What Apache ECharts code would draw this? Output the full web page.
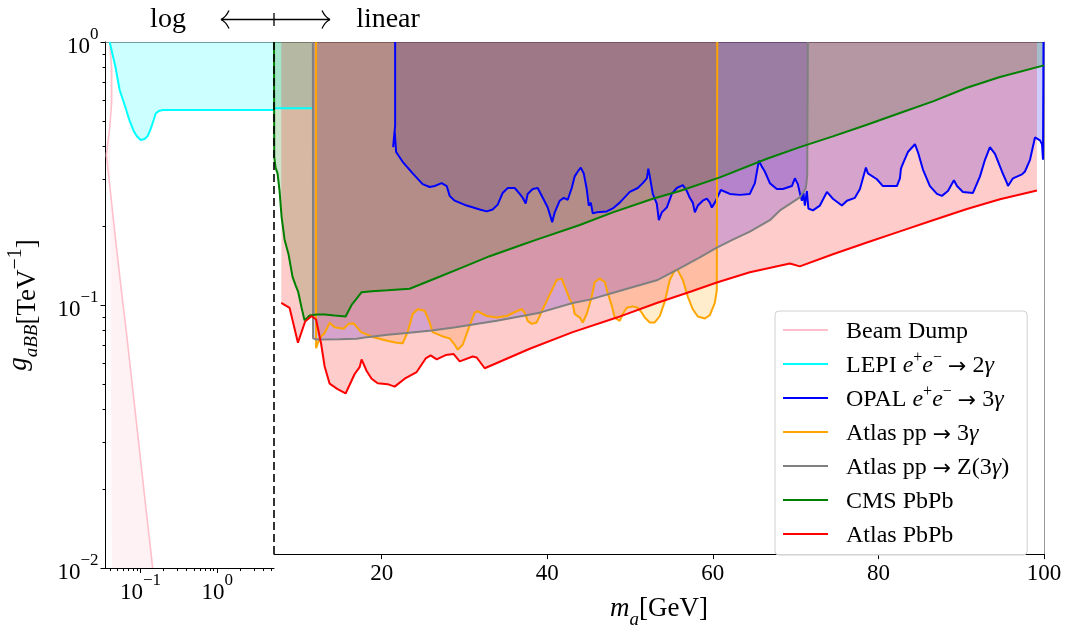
<!DOCTYPE html>
<html>
<head>
<meta charset="utf-8">
<title>ALP limits</title>
<style>
html,body{margin:0;padding:0;background:#fff;}
#chart{width:1065px;height:634px;}
</style>
</head>
<body>
<div id="chart"></div>
<script src="https://cdn.jsdelivr.net/npm/echarts@6/dist/echarts.min.js"></script>
<script>
// ---- data: [m_a (GeV), g_aBB (1/TeV)] ----
var beamDump = [[0.0397,1],[0.0421,0.797],[0.0421,0.591],[0.0397,0.471],[0.0359,0.372],[0.0397,0.286],[0.0447,0.207],
  [0.0504,0.151],[0.0569,0.111],[0.0661,0.0769],[0.0768,0.0519],[0.0892,0.035],[0.1036,0.0236],[0.1204,0.0159],
  [0.1358,0.0117],[0.1442,0.01]];

var lepiLog = [[0.0397,1],[0.0434,0.892],[0.0475,0.796],[0.0535,0.657],[0.0622,0.576],[0.0723,0.501],[0.0815,0.459],
  [0.0892,0.439],[0.1006,0.424],[0.1134,0.428],[0.1241,0.439],[0.1358,0.467],[0.1486,0.505],[0.1578,0.535],
  [0.1727,0.547],[0.1948,0.551],[5.5,0.551]];
var lepiLin = [[7,0.551],[11.7,0.551]];

var opal = [[21.63,1],[21.63,0.471],[21.39,0.3885],[21.57,0.4508],[21.75,0.3718],[22.54,0.3405],[23.75,0.3067],
  [24.95,0.2786],[25.80,0.2714],[26.41,0.2738],[27.25,0.2810],[27.86,0.2738],[28.22,0.2507],[28.82,0.2400],
  [30.27,0.2297],[31.84,0.2218],[32.69,0.2180],[33.41,0.2218],[34.02,0.2317],[34.62,0.2574],[35.23,0.2690],
  [36.07,0.2690],[36.68,0.2551],[37.04,0.2463],[37.40,0.2338],[37.64,0.2551],[38.25,0.2666],[38.85,0.2690],
  [39.46,0.2463],[40.06,0.2257],[40.60,0.1979],[40.91,0.2161],[41.51,0.2400],[42.00,0.2463],[42.48,0.2421],
  [42.96,0.2690],[43.32,0.2987],[43.69,0.3121],[44.05,0.3232],[44.41,0.3067],[44.77,0.2666],[45.02,0.2297],
  [45.26,0.2359],[45.50,0.2142],[45.98,0.2161],[47.19,0.2180],[47.92,0.2238],[48.76,0.2359],[49.97,0.2597],
  [50.94,0.2690],[51.54,0.2810],[52.03,0.2935],[52.21,0.3203],[52.39,0.2987],[52.75,0.2551],[53.23,0.2338],
  [53.48,0.2014],[53.84,0.2161],[54.44,0.2257],[55.05,0.2551],[55.65,0.2690],[56.38,0.2761],[56.86,0.2619],
  [57.22,0.2463],[57.58,0.2359],[57.83,0.2161],[58.19,0.2297],[58.79,0.2400],[59.28,0.2443],[59.64,0.2359],
  [59.88,0.2257],[60.24,0.2359],[60.97,0.2642],[62.06,0.2551],[63.26,0.2529],[64.47,0.2551],[65.08,0.2810],
  [65.56,0.3436],[65.92,0.3261],[66.28,0.3121],[66.89,0.2810],[67.73,0.2666],[68.46,0.2666],[69.55,0.2738],
  [69.91,0.2935],[70.27,0.2786],[70.51,0.2574],[70.76,0.2400],[70.94,0.2574],[71.12,0.2297],[71.36,0.2619],
  [71.54,0.2238],[72.09,0.2199],[72.93,0.2297],[73.78,0.2597],[74.02,0.2551],[74.50,0.2443],[75.59,0.2297],
  [76.20,0.2400],[77.16,0.2463],[77.77,0.2666],[78.13,0.2935],[78.49,0.3232],[78.73,0.3067],[79.82,0.2910],
  [80.54,0.2738],[82.23,0.2738],[82.60,0.2935],[82.72,0.3203],[82.96,0.3347],[83.56,0.3718],[84.41,0.3988],
  [84.77,0.3718],[85.38,0.3175],[86.22,0.2738],[87.07,0.2551],[87.67,0.2507],[88.40,0.2619],[89.12,0.2884],
  [89.49,0.2738],[90.21,0.2597],[91.42,0.2574],[92.27,0.2987],[92.87,0.3467],[93.47,0.3885],[94.08,0.3654],
  [94.92,0.3121],[95.53,0.2810],[95.65,0.2738],[96.25,0.2935],[97.34,0.3040],[97.70,0.3121],[98.31,0.3467],
  [98.91,0.4240],[99.52,0.4130],[99.76,0.3988],[99.88,0.3467],[99.94,1]];

var atlas3g = [[12.08,1],[12.08,0.0637],[12.51,0.0696],[13.11,0.0730],[13.72,0.0800],[14.32,0.0769],[15.41,0.0759],
  [16.01,0.0793],[16.62,0.0796],[17.52,0.0736],[18.91,0.0705],[20.54,0.0683],[21.81,0.0669],[22.54,0.0666],
  [23.14,0.0736],[23.75,0.0866],[24.35,0.0904],[25.20,0.0892],[25.80,0.0803],[26.16,0.0736],[27.37,0.0708],
  [28.22,0.0696],[28.82,0.0657],[29.19,0.0629],[29.79,0.0657],[30.64,0.0782],[31.24,0.0877],[31.60,0.0888],
  [32.69,0.0851],[33.90,0.0839],[35.11,0.0851],[36.31,0.0888],[36.92,0.0904],[37.28,0.0877],[37.64,0.0814],
  [38.13,0.0793],[38.73,0.0803],[39.46,0.0904],[40.30,0.1031],[41.15,0.1176],[41.75,0.1191],[42.11,0.1110],
  [42.72,0.0987],[43.08,0.0945],[43.32,0.0866],[43.93,0.0839],[44.29,0.0803],[44.77,0.0866],[45.38,0.1013],
  [45.74,0.1155],[46.34,0.1191],[46.95,0.1155],[47.31,0.1045],[47.80,0.0932],[48.16,0.0839],[48.76,0.0814],
  [49.12,0.0866],[49.61,0.0916],[50.33,0.0928],[50.94,0.0916],[51.42,0.0877],[51.78,0.0839],[52.39,0.0803],
  [52.99,0.0803],[53.60,0.0851],[54.20,0.0970],[54.80,0.1176],[55.41,0.1283],[55.77,0.1283],[56.38,0.1176],
  [56.98,0.1013],[57.58,0.0904],[58.19,0.0847],[59.03,0.0832],[59.64,0.0858],[60.24,0.0957],[60.48,0.1072],
  [60.54,1]];

var atlasZ = [[11.70,1],[11.72,0.0696],[12.15,0.0689],[14.92,0.0690],[16.98,0.0694],[17.95,0.0702],[20.73,0.0719],
  [23.02,0.0731],[26.04,0.0747],[28.94,0.0769],[33.90,0.0815],[39.09,0.0877],[43.08,0.0957],[45.14,0.0986],
  [49.12,0.1075],[53.23,0.1173],[55.65,0.1289],[58.43,0.1441],[60.48,0.1573],[62.42,0.1691],[64.47,0.1818],
  [66.89,0.2014],[68.10,0.2199],[69.31,0.2332],[70.51,0.2471],[71.24,0.2690],[71.40,0.30],[71.48,1]];

var cms = [[7.0,1],[7.03,0.356],[7.19,0.323],[7.43,0.307],[7.67,0.262],[7.92,0.207],[8.28,0.169],[8.76,0.148],
  [9.24,0.121],[9.61,0.112],[9.91,0.106],[10.33,0.0916],[10.69,0.0818],[11.30,0.0854],[12.15,0.0862],
  [13.11,0.0862],[14.32,0.0854],[15.65,0.0847],[16.37,0.094],[16.86,0.0983],[17.58,0.1054],[18.79,0.1063],
  [20.73,0.1072],[23.38,0.1087],[26.16,0.1181],[29.91,0.1323],[33.05,0.1457],[37.04,0.1618],[38.73,0.1691],
  [43.93,0.1928],[47.92,0.2161],[52.75,0.2443],[56.01,0.2619],[60.85,0.2961],[66.53,0.3499],[70.51,0.3885],
  [74.50,0.4278],[78.61,0.4752],[82.60,0.5278],[86.59,0.5862],[90.69,0.6628],[94.68,0.7297],[100,0.8104]];

var atlasPbPb = [[7.88,0.0957],[8.88,0.0916],[9.89,0.0669],[10.76,0.081],[11.54,0.0851],[12.08,0.0825],[12.69,0.0663],
  [13.11,0.0542],[13.72,0.0463],[14.68,0.0441],[15.65,0.0424],[16.74,0.0505],[17.34,0.0537],[17.58,0.0576],
  [18.19,0.0519],[18.79,0.0484],[19.52,0.0465],[20.73,0.0461],[21.57,0.0451],[22.78,0.0484],[24.23,0.0514],
  [25.32,0.0581],[25.92,0.0597],[26.65,0.0576],[27.73,0.0599],[28.70,0.0604],[29.43,0.0566],[31.00,0.0591],
  [31.48,0.0586],[32.45,0.0532],[37.89,0.0634],[43.08,0.0736],[48.40,0.0839],[53.23,0.0957],[57.46,0.1063],
  [60.48,0.115],[64.47,0.1261],[69.31,0.1365],[70.51,0.133],[74.50,0.1483],[78.61,0.1647],[82.60,0.1822],
  [86.59,0.2014],[90.69,0.2228],[94.68,0.2431],[99.15,0.2631]];

// ticks
var xLogTicks = [0.1, 1];
var xLogMinor = [0.04,0.05,0.06,0.07,0.08,0.09,0.2,0.3,0.4,0.5,0.6,0.7,0.8,0.9,2,3,4,5];
var xLinTicks = [20, 40, 60, 80, 100];
var yTicks = [0.01, 0.1, 1];
var yMinor = [0.02,0.03,0.04,0.05,0.06,0.07,0.08,0.09,0.2,0.3,0.4,0.5,0.6,0.7,0.8,0.9];

var FONT = 'Liberation Serif';
var xLogMin = 0.035, xLogMax = 5.5, xLinMin = 7, xLinMax = 100;

var powRich = {
  b: {fontFamily: FONT, fontSize: 23, lineHeight: 32, verticalAlign: 'bottom', color: '#000'},
  s: {fontFamily: FONT, fontSize: 17, lineHeight: 17, verticalAlign: 'top', color: '#000'}
};
function powLabel(v) {
  var e = Math.round(Math.log(v) / Math.LN10);
  return '{b|10}{s|' + (e < 0 ? '\u2212' + (-e) : e) + '}';
}

var txtRich = {
  n: {fontFamily: FONT, fontSize: 24, lineHeight: 28, verticalAlign: 'bottom', color: '#000'},
  i: {fontFamily: FONT, fontStyle: 'italic', fontSize: 24, lineHeight: 28, verticalAlign: 'bottom', color: '#000'},
  a: {fontFamily: 'DejaVu Sans', fontSize: 22, lineHeight: 28, verticalAlign: 'bottom', color: '#000'},
  s: {fontFamily: FONT, fontSize: 16, lineHeight: 16, verticalAlign: 'top', color: '#000'}
};
var legendLabels = {
  'Beam Dump': '{n|Beam Dump}',
  'LEPI e+e- \u2192 2\u03b3': '{n|LEPI }{i|e}{s|+}{i|e}{s|\u2212}{n| }{a|\u2192}{n| 2}{i|\u03b3}',
  'OPAL e+e- \u2192 3\u03b3': '{n|OPAL }{i|e}{s|+}{i|e}{s|\u2212}{n| }{a|\u2192}{n| 3}{i|\u03b3}',
  'Atlas pp \u2192 3\u03b3': '{n|Atlas pp }{a|\u2192}{n| 3}{i|\u03b3}',
  'Atlas pp \u2192 Z(3\u03b3)': '{n|Atlas pp }{a|\u2192}{n| Z(3}{i|\u03b3}{n|)}',
  'CMS PbPb': '{n|CMS PbPb}',
  'Atlas PbPb': '{n|Atlas PbPb}'
};

function line(name, color, fill, data, grid, origin, extra) {
  var s = {
    name: name, type: 'line', data: data, showSymbol: false, symbol: 'none',
    xAxisIndex: grid === 0 ? 0 : 2, yAxisIndex: grid === 0 ? 0 : 2,
    itemStyle: {color: color},
    lineStyle: {color: color, width: 2},
    areaStyle: {color: fill, opacity: 1, origin: origin || 'end'},
    emphasis: {disabled: true}, silent: true
  };
  for (var k in extra) s[k] = extra[k];
  return s;
}

var chart = echarts.init(document.getElementById('chart'));
var option = {
  animation: false,
  backgroundColor: '#fff',
  grid: [
    {left: 105.5, top: 42, width: 168.5, bottom: 66},
    {left: 274, top: 42, right: 21, bottom: 66}
  ],
  xAxis: [
    {gridIndex: 0, type: 'log', logBase: 10, min: xLogMin, max: xLogMax, position: 'bottom',
      axisLine: {onZero: false, lineStyle: {color: '#000', width: 1}},
      axisTick: {customValues: xLogTicks, length: 5, lineStyle: {color: '#000'}},
      axisLabel: {customValues: xLogTicks, formatter: powLabel, rich: powRich, margin: 4},
      splitLine: {show: false}},
    {gridIndex: 0, type: 'log', logBase: 10, min: xLogMin, max: xLogMax, position: 'bottom',
      axisLine: {show: false, onZero: false},
      axisTick: {customValues: xLogMinor, length: 3, lineStyle: {color: '#000'}},
      axisLabel: {show: false}, splitLine: {show: false}},
    {gridIndex: 1, type: 'value', min: xLinMin, max: xLinMax, position: 'bottom',
      axisLine: {onZero: false, lineStyle: {color: '#000', width: 1}},
      axisTick: {customValues: xLinTicks, length: 5, lineStyle: {color: '#000'}},
      axisLabel: {customValues: xLinTicks, fontFamily: FONT, fontSize: 23, lineHeight: 32, color: '#000', margin: 4},
      splitLine: {show: false},
      name: '{i|m}{u|a}{n|[GeV]}', nameLocation: 'middle', nameGap: 40,
      nameTextStyle: {rich: {
        i: {fontFamily: FONT, fontStyle: 'italic', fontSize: 27, lineHeight: 34, verticalAlign: 'top', color: '#000'},
        u: {fontFamily: FONT, fontStyle: 'italic', fontSize: 19, lineHeight: 24, verticalAlign: 'bottom', color: '#000'},
        n: {fontFamily: FONT, fontSize: 27, lineHeight: 34, verticalAlign: 'top', color: '#000'}
      }}},
    {gridIndex: 0, type: 'value', min: 0, max: 1, position: 'top',
      axisLine: {onZero: false, lineStyle: {color: '#888', width: 1}},
      axisTick: {show: false}, axisLabel: {show: false}, splitLine: {show: false}},
    {gridIndex: 1, type: 'value', min: 0, max: 1, position: 'top',
      axisLine: {onZero: false, lineStyle: {color: '#888', width: 1}},
      axisTick: {show: false}, axisLabel: {show: false}, splitLine: {show: false}}
  ],
  yAxis: [
    {gridIndex: 0, type: 'log', logBase: 10, min: 0.01, max: 1, position: 'left',
      axisLine: {onZero: false, lineStyle: {color: '#000', width: 1}},
      axisTick: {customValues: yTicks, length: 5, lineStyle: {color: '#000'}},
      axisLabel: {customValues: yTicks, formatter: powLabel, rich: powRich, margin: 7},
      splitLine: {show: false},
      name: '{i|g}{u|aBB}{n|[TeV}{s|\u22121}{n|]}', nameLocation: 'middle', nameRotate: 90, nameGap: 64,
      nameTextStyle: {rich: {
        i: {fontFamily: FONT, fontStyle: 'italic', fontSize: 27, lineHeight: 36, verticalAlign: 'top', color: '#000'},
        u: {fontFamily: FONT, fontStyle: 'italic', fontSize: 19, lineHeight: 24, verticalAlign: 'bottom', color: '#000'},
        n: {fontFamily: FONT, fontSize: 27, lineHeight: 36, verticalAlign: 'bottom', color: '#000'},
        s: {fontFamily: FONT, fontSize: 20, lineHeight: 20, verticalAlign: 'top', color: '#000'}
      }}},
    {gridIndex: 0, type: 'log', logBase: 10, min: 0.01, max: 1, position: 'left',
      axisLine: {show: false, onZero: false},
      axisTick: {customValues: yMinor, length: 3, lineStyle: {color: '#000'}},
      axisLabel: {show: false}, splitLine: {show: false}},
    {gridIndex: 1, type: 'log', logBase: 10, min: 0.01, max: 1, position: 'right',
      axisLine: {onZero: false, lineStyle: {color: '#999', width: 1}},
      axisTick: {show: false}, axisLabel: {show: false}, splitLine: {show: false}}
  ],
  legend: {
    left: 775, top: 311, orient: 'vertical',
    data: Object.keys(legendLabels),
    icon: 'rect', itemWidth: 45, itemHeight: 2, itemGap: 6,
    padding: [5, 18, 7, 8],
    backgroundColor: 'rgba(255,255,255,0.85)', borderColor: '#d0d0d0', borderWidth: 1, borderRadius: 4,
    selectedMode: false,
    formatter: function (name) { return legendLabels[name]; },
    textStyle: {fontFamily: FONT, fontSize: 24, lineHeight: 28, color: '#000', padding: [0, 0, 0, 13], rich: txtRich}
  },
  graphic: [
    {type: 'text', x: 168, y: 20, style: {text: 'log', font: '28px "Liberation Serif"', fill: '#000', align: 'center', verticalAlign: 'middle'}},
    {type: 'text', x: 388, y: 20, style: {text: 'linear', font: '28px "Liberation Serif"', fill: '#000', align: 'center', verticalAlign: 'middle'}},
    {type: 'line', shape: {x1: 221, y1: 19.5, x2: 330, y2: 19.5}, style: {stroke: '#000', lineWidth: 1.3}},
    {type: 'line', shape: {x1: 274, y1: 13, x2: 274, y2: 26}, style: {stroke: '#000', lineWidth: 1.3}},
    {type: 'bezierCurve', shape: {x1: 221, y1: 19.5, x2: 229, y2: 10.5, cpx1: 226, cpy1: 17}, style: {stroke: '#000', lineWidth: 1.3, fill: null}},
    {type: 'bezierCurve', shape: {x1: 221, y1: 19.5, x2: 229, y2: 28.5, cpx1: 226, cpy1: 22}, style: {stroke: '#000', lineWidth: 1.3, fill: null}},
    {type: 'bezierCurve', shape: {x1: 330, y1: 19.5, x2: 322, y2: 10.5, cpx1: 325, cpy1: 17}, style: {stroke: '#000', lineWidth: 1.3, fill: null}},
    {type: 'bezierCurve', shape: {x1: 330, y1: 19.5, x2: 322, y2: 28.5, cpx1: 325, cpy1: 22}, style: {stroke: '#000', lineWidth: 1.3, fill: null}}
  ],
  series: [
    line('Beam Dump', '#ffc0cb', 'rgba(255,192,203,0.2)', beamDump, 0, 'start', {lineStyle: {color: '#ffc0cb', width: 1.6}}),
    line('LEPI e+e- \u2192 2\u03b3', '#00ffff', 'rgba(0,255,255,0.2)', lepiLog, 0),
    line('LEPI e+e- \u2192 2\u03b3', '#00ffff', 'rgba(0,255,255,0.2)', lepiLin, 1),
    line('OPAL e+e- \u2192 3\u03b3', '#0000ff', 'rgba(0,0,255,0.2)', opal, 1),
    line('Atlas pp \u2192 3\u03b3', '#ffa500', 'rgba(255,165,0,0.2)', atlas3g, 1),
    line('Atlas pp \u2192 Z(3\u03b3)', '#808080', 'rgba(0,0,255,0.2)', atlasZ, 1),
    line('CMS PbPb', '#008000', 'rgba(0,128,0,0.2)', cms, 1),
    line('Atlas PbPb', '#ff0000', 'rgba(255,0,0,0.2)', atlasPbPb, 1, 'end', {
      markLine: {silent: true, symbol: 'none', label: {show: false},
        lineStyle: {color: '#000', type: [8, 4], width: 1.6},
        data: [{xAxis: 7.03}]}
    })
  ]
};
chart.setOption(option);
</script>
</body>
</html>
